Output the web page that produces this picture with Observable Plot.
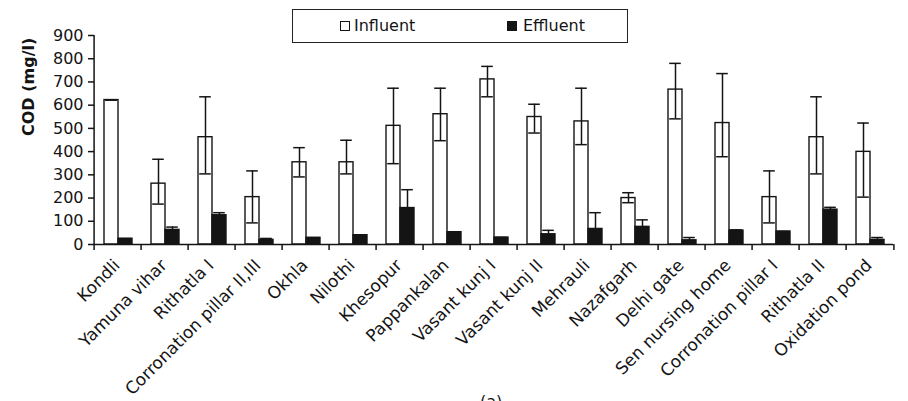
<!DOCTYPE html>
<html>
<head>
<meta charset="utf-8">
<script src="https://cdn.jsdelivr.net/npm/d3@7"></script>
<script src="https://cdn.jsdelivr.net/npm/@observablehq/plot@0.6"></script>
<style>
  html, body { margin: 0; padding: 0; background: #fff; }
  #wrap { position: relative; width: 908px; height: 401px; overflow: hidden; font-family: "DejaVu Sans", sans-serif; color: #141414; }
  #legend { position: absolute; left: 292px; top: 9px; width: 336px; height: 34px; border: 1.5px solid #222; box-sizing: border-box; background: #fff; }
  #legend .sw { position: absolute; top: 11px; width: 10px; height: 10px; box-sizing: border-box; border: 1.3px solid #141414; }
  #legend .lb { position: absolute; top: 8px; font-size: 16px; line-height: 16px; white-space: nowrap; }
  #cap { position: absolute; left: 480px; top: 394px; font-size: 16px; line-height: 16px; }
</style>
</head>
<body>
<div id="wrap">
  <div id="chart"></div>
  <div id="legend"></div>
  <div id="cap">(a)</div>
</div>
<script>
const sites = ["Kondli", "Yamuna vihar", "Rithatla I", "Corronation pillar II,III", "Okhla", "Nilothi", "Khesopur", "Pappankalan", "Vasant kunj I", "Vasant kunj II", "Mehrauli", "Nazafgarh", "Delhi gate", "Sen nursing home", "Corronation pillar I", "Rithatla II", "Oxidation pond"];
const seriesNames = ["Influent", "Effluent"];
const influent     = [622, 262, 462, 204, 354, 354, 511, 561, 711, 549, 530, 200, 667, 523, 204, 462, 399];
const influentLow  = [622, 174, 304,  93, 291, 304, 348, 447, 636, 480, 430, 180, 541, 378,  93, 304, 204];
const influentHigh = [622, 367, 636, 317, 417, 449, 673, 673, 767, 604, 673, 223, 780, 736, 317, 636, 523];
const effluent     = [ 25,  63, 126,  20,  29,  40, 157,  53,  30,  44,  67,  76,  18,  60,  56, 150,  20];
const effluentHigh = [ 25,  75, 137,  26,  29,  40, 236,  53,  30,  61, 137, 106,  30,  63,  56, 160,  30];
const yTicks = [0, 100, 200, 300, 400, 500, 600, 700, 800, 900];
const yLabel = "COD (mg/l)";

const rows = sites.flatMap((s, i) => [
  {site: s, series: "Influent", value: influent[i], lo: influentLow[i], hi: influentHigh[i]},
  {site: s, series: "Effluent", value: effluent[i], lo: Math.max(0, 2 * effluent[i] - effluentHigh[i]), hi: effluentHigh[i]}
]);

const W = 908, H = 401, ML = 87, MR = 8, MT = 35, MB = 157;
const step = (W - ML - MR) / sites.length;
const frameH = H - MT - MB;
const ink = "#141414";

const chart = Plot.plot({
  width: W, height: H,
  marginLeft: ML, marginRight: MR, marginTop: MT, marginBottom: MB,
  style: {fontFamily: "DejaVu Sans, sans-serif", fontSize: "16px", color: ink, background: "white", overflow: "visible"},
  fx: {domain: sites, padding: 0},
  x: {domain: seriesNames, paddingInner: 0, paddingOuter: 0.675, axis: null},
  y: {domain: [0, 900]},
  color: {domain: seriesNames, range: ["white", ink]},
  marks: [
    Plot.barY(rows, {fx: "site", x: "series", y: "value", fill: "series", stroke: ink, strokeWidth: 1.4}),
    Plot.ruleX(rows, {fx: "site", x: "series", y1: "lo", y2: "hi", stroke: ink, strokeWidth: 1.5}),
    Plot.tickY(rows, {fx: "site", x: "series", y: "hi", stroke: ink, strokeWidth: 1.5, insetLeft: 1.2, insetRight: 1.2}),
    Plot.tickY(rows.filter(d => d.series === "Influent"), {fx: "site", x: "series", y: "lo", stroke: ink, strokeWidth: 1.5, insetLeft: 1.2, insetRight: 1.2}),
    Plot.ruleY([0], {stroke: ink, strokeWidth: 1.5}),
    Plot.ruleX([sites[0]], {fx: d => d, x: null, dx: -step / 2, stroke: ink, strokeWidth: 1.5}),
    Plot.ruleX([0], {x: null, dx: -step / 2, insetTop: frameH, insetBottom: -6, stroke: ink, strokeWidth: 1.5}),
    Plot.ruleX([sites[sites.length - 1]], {fx: d => d, x: null, dx: step / 2, insetTop: frameH, insetBottom: -6, stroke: ink, strokeWidth: 1.5}),
    Plot.axisY({ticks: yTicks, tickSize: 6, tickPadding: 5, label: null, fontSize: 16, strokeWidth: 1.5}),
    Plot.axisFx({anchor: "bottom", tickSize: 0, tickPadding: 18, tickRotate: -45, label: null, fontSize: 17, dx: -1}),
    Plot.text([yLabel], {fx: () => sites[0], x: null, y: null, text: d => d, frameAnchor: "left", dx: -66, dy: -4, rotate: -90, fontWeight: "bold", fontSize: 16, fill: ink})
  ]
});
document.getElementById("chart").appendChild(chart);

const legend = document.getElementById("legend");
const items = [
  {name: seriesNames[0], fill: "white", sw: 46.5, lb: 61},
  {name: seriesNames[1], fill: ink, sw: 214, lb: 230}
];
for (const it of items) {
  const s = document.createElement("span");
  s.className = "sw"; s.style.left = it.sw + "px"; s.style.background = it.fill;
  legend.appendChild(s);
  const t = document.createElement("span");
  t.className = "lb"; t.style.left = it.lb + "px"; t.textContent = it.name;
  legend.appendChild(t);
}
</script>
</body>
</html>
